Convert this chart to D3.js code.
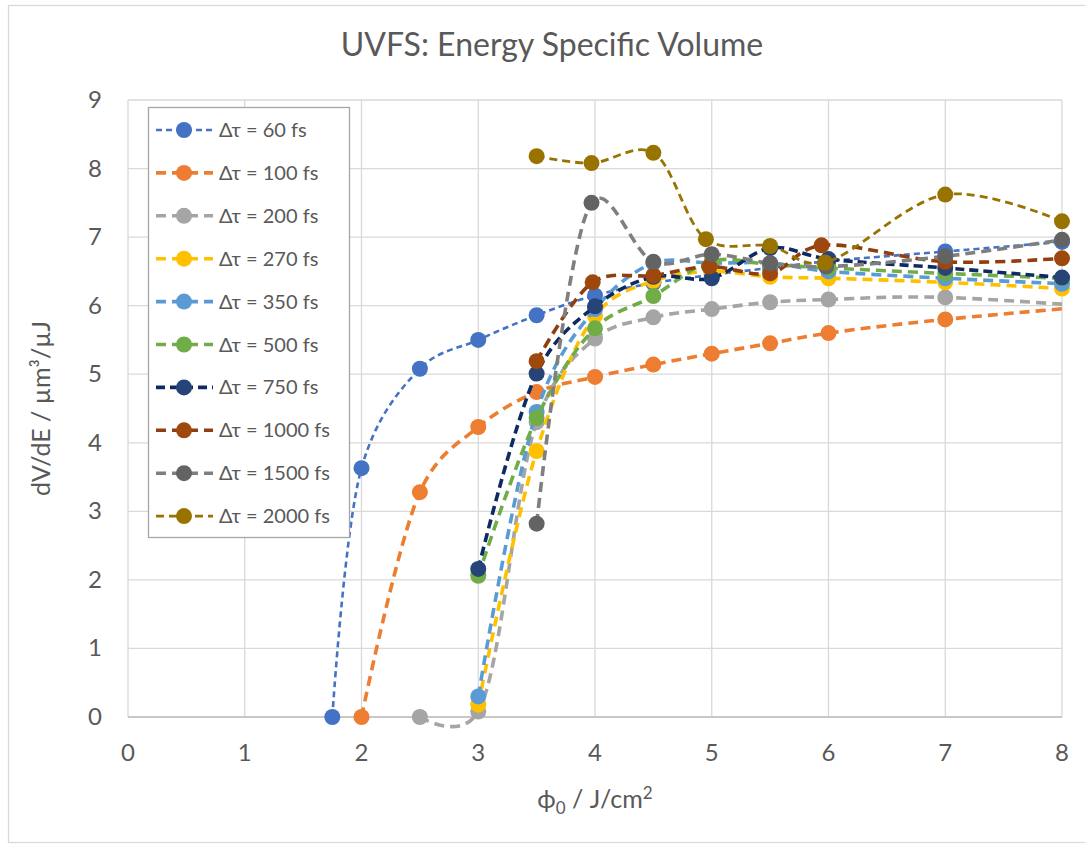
<!DOCTYPE html>
<html lang="en">
<head>
    <meta charset="UTF-8">
    <title>UVFS: Energy Specific Volume</title>
    <script src="https://cdnjs.cloudflare.com/ajax/libs/d3/7.8.5/d3.min.js"></script>
    <style>
        body {
            margin: 0;
            background: #fff;
            font-family: Lato, "Open Sans", sans-serif;
        }
        .grid line { stroke: #d9d9d9; stroke-width: 1.3; }
        .tick-label { fill: #595959; font-size: 24px; }
        .axis-title { fill: #595959; font-size: 25px; }
        .legend-text { fill: #595959; font-size: 20px; }
    </style>
</head>
<body>
    <div id="chart"></div>
    <script>
        // Pulse durations (legend labels)
        const series = ["Δτ = 60 fs", "Δτ = 100 fs", "Δτ = 200 fs", "Δτ = 270 fs", "Δτ = 350 fs",
                        "Δτ = 500 fs", "Δτ = 750 fs", "Δτ = 1000 fs", "Δτ = 1500 fs", "Δτ = 2000 fs"];

        // Fluence values per series (J/cm2)
        const fluence60   = [1.75, 2.0, 2.5, 3.0, 3.5, 4.0, 4.5, 5.0, 5.5, 6.0, 7.0, 8.0];
        const fluence100  = [2.0, 2.5, 3.0, 3.5, 4.0, 4.5, 5.0, 5.5, 6.0, 7.0, 9.0];
        const fluence200  = [2.5, 3.0, 3.5, 4.0, 4.5, 5.0, 5.5, 6.0, 7.0, 9.0];
        const fluence270  = [3.0, 3.5, 4.0, 4.5, 5.0, 5.5, 6.0, 7.0, 8.0];
        const fluence350  = [3.0, 3.5, 4.0, 4.5, 5.0, 5.5, 6.0, 7.0, 8.0];
        const fluence500  = [3.0, 3.5, 4.0, 4.5, 5.0, 5.5, 6.0, 7.0, 8.0];
        const fluence750  = [3.0, 3.5, 4.0, 4.5, 5.0, 5.5, 6.0, 7.0, 8.0];
        const fluence1000 = [3.5, 3.98, 4.5, 4.98, 5.5, 5.94, 7.0, 8.0];
        const fluence1500 = [3.5, 3.97, 4.5, 5.0, 5.5, 5.98, 7.0, 8.0];
        const fluence2000 = [3.5, 3.97, 4.5, 4.95, 5.5, 5.97, 7.0, 8.0];

        // dV/dE values per series (um3/uJ)
        const volume60   = [0, 3.63, 5.08, 5.50, 5.86, 6.15, 6.33, 6.45, 6.55, 6.65, 6.79, 6.93];
        const volume100  = [0, 3.28, 4.23, 4.74, 4.96, 5.14, 5.30, 5.45, 5.60, 5.80, 6.10];
        const volume200  = [0, 0.08, 4.30, 5.52, 5.83, 5.95, 6.05, 6.09, 6.12, 5.90];
        const volume270  = [0.18, 3.88, 5.85, 6.36, 6.50, 6.42, 6.40, 6.34, 6.25];
        const volume350  = [0.30, 4.45, 5.95, 6.62, 6.62, 6.62, 6.50, 6.40, 6.32];
        const volume500  = [2.06, 4.36, 5.67, 6.14, 6.65, 6.60, 6.55, 6.47, 6.40];
        const volume750  = [2.16, 5.01, 5.99, 6.42, 6.40, 6.84, 6.68, 6.55, 6.41];
        const volume1000 = [5.19, 6.34, 6.44, 6.57, 6.47, 6.88, 6.64, 6.69];
        const volume1500 = [2.82, 7.50, 6.64, 6.75, 6.62, 6.57, 6.72, 6.96];
        const volume2000 = [8.18, 8.08, 8.23, 6.97, 6.87, 6.63, 7.62, 7.23];

        const xTicks = [0, 1, 2, 3, 4, 5, 6, 7, 8];
        const yTicks = [0, 1, 2, 3, 4, 5, 6, 7, 8, 9];

        const fluences = [fluence60, fluence100, fluence200, fluence270, fluence350,
                          fluence500, fluence750, fluence1000, fluence1500, fluence2000];
        const volumes = [volume60, volume100, volume200, volume270, volume350,
                         volume500, volume750, volume1000, volume1500, volume2000];

        // Excel-like colours: line colour, marker colour
        const lineColors   = ["#4472c4", "#ed7d31", "#a5a5a5", "#ffc000", "#5b9bd5",
                              "#70ad47", "#0e2a62", "#8f3f0d", "#7f7f7f", "#997300"];
        const markerColors = ["#4472c4", "#ed7d31", "#a5a5a5", "#ffc000", "#5b9bd5",
                              "#70ad47", "#264478", "#9e480e", "#636363", "#997300"];
        const lineWidths = [2.6, 3.6, 3.6, 3.6, 3.6, 3.6, 3.6, 3.6, 3.6, 2.8];
        const dashes = ["6,4", "10,6", "10,6", "10,6", "10,6", "10,6", "9,5", "10,6", "10,6", "8,5"];

        const width = 1085;
        const height = 845;
        const margin = {top: 100, right: 23, bottom: 128, left: 128};

        const svg = d3.select("#chart")
            .append("svg")
            .attr("width", width)
            .attr("height", height);

        // Chart frame
        svg.append("rect")
            .attr("x", 8.5).attr("y", 5.5)
            .attr("width", width).attr("height", height - 8)
            .attr("fill", "#fff")
            .attr("stroke", "#d9d9d9")
            .attr("stroke-width", 1.3);

        const x = d3.scaleLinear().domain([0, 8]).range([margin.left, width - margin.right]);
        const y = d3.scaleLinear().domain([0, 9]).range([height - margin.bottom, margin.top]);

        // Gridlines
        const grid = svg.append("g").attr("class", "grid");
        grid.selectAll(".v").data(xTicks).enter().append("line")
            .attr("x1", d => x(d)).attr("x2", d => x(d))
            .attr("y1", y(0)).attr("y2", y(9));
        grid.selectAll(".h").data(yTicks).enter().append("line")
            .attr("x1", x(0)).attr("x2", x(8))
            .attr("y1", d => y(d)).attr("y2", d => y(d));
        svg.append("line")
            .attr("x1", x(0)).attr("x2", x(8))
            .attr("y1", y(0)).attr("y2", y(0))
            .attr("stroke", "#bfbfbf").attr("stroke-width", 1.5);

        // Tick labels
        svg.selectAll(".xl").data(xTicks).enter().append("text")
            .attr("class", "tick-label")
            .attr("x", d => x(d)).attr("y", y(0) + 44)
            .attr("text-anchor", "middle")
            .text(d => d);
        svg.selectAll(".yl").data(yTicks).enter().append("text")
            .attr("class", "tick-label")
            .attr("x", x(0) - 26).attr("y", d => y(d) + 8)
            .attr("text-anchor", "end")
            .text(d => d);

        // Title
        svg.append("text")
            .attr("x", 552).attr("y", 56)
            .attr("text-anchor", "middle")
            .attr("fill", "#595959")
            .style("font-size", "32px")
            .text("UVFS: Energy Specific Volume");

        // Axis titles
        const xt = svg.append("text")
            .attr("class", "axis-title")
            .attr("x", (x(0) + x(8)) / 2).attr("y", 808)
            .attr("text-anchor", "middle");
        xt.append("tspan").text("ϕ");
        xt.append("tspan").attr("dy", 6).style("font-size", "17px").text("0");
        xt.append("tspan").attr("dy", -6).text(" / J/cm");
        xt.append("tspan").attr("dy", -9).style("font-size", "17px").text("2");

        svg.append("text")
            .attr("class", "axis-title")
            .attr("transform", `translate(50, ${(y(0) + y(9)) / 2}) rotate(-90)`)
            .attr("text-anchor", "middle")
            .text("dV/dE / µm³/µJ");

        // Clip lines to the plot area
        svg.append("clipPath").attr("id", "plot-clip")
            .append("rect")
            .attr("x", x(0)).attr("y", 0)
            .attr("width", x(8) - x(0)).attr("height", height);

        const line = d3.line()
            .x(d => x(d[0]))
            .y(d => y(d[1]))
            .curve(d3.curveCatmullRom.alpha(0.2));

        series.forEach((name, i) => {
            const pts = fluences[i].map((f, j) => [f, volumes[i][j]]);
            const g = svg.append("g");
            g.append("path")
                .attr("d", line(pts))
                .attr("clip-path", "url(#plot-clip)")
                .attr("fill", "none")
                .attr("stroke", lineColors[i])
                .attr("stroke-width", lineWidths[i])
                .attr("stroke-dasharray", dashes[i]);
            g.selectAll("circle")
                .data(pts.filter(p => p[0] <= 8))
                .enter().append("circle")
                .attr("cx", d => x(d[0]))
                .attr("cy", d => y(d[1]))
                .attr("r", 8)
                .attr("fill", markerColors[i]);
        });

        // Legend
        const legend = svg.append("g");
        legend.append("rect")
            .attr("x", 148.5).attr("y", 107.5)
            .attr("width", 201).attr("height", 430)
            .attr("fill", "#fff")
            .attr("stroke", "#a6a6a6")
            .attr("stroke-width", 1.3);
        series.forEach((name, i) => {
            const ly = 130 + i * 42.9;
            legend.append("line")
                .attr("x1", 156).attr("x2", 213)
                .attr("y1", ly).attr("y2", ly)
                .attr("stroke", lineColors[i])
                .attr("stroke-width", lineWidths[i])
                .attr("stroke-dasharray", dashes[i]);
            legend.append("circle")
                .attr("cx", 184).attr("cy", ly)
                .attr("r", 8)
                .attr("fill", markerColors[i]);
            legend.append("text")
                .attr("class", "legend-text")
                .attr("x", 219).attr("y", ly + 7)
                .text(name);
        });
    </script>
</body>
</html>
